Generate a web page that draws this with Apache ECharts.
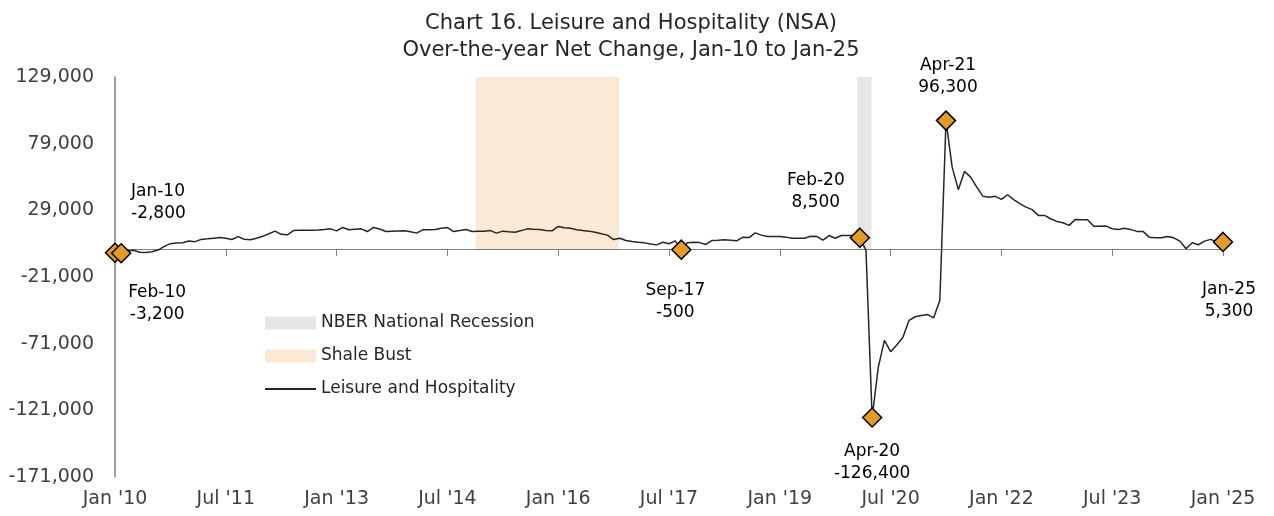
<!DOCTYPE html>
<html>
<head>
<meta charset="utf-8">
<script src="https://cdn.jsdelivr.net/npm/echarts@6/dist/echarts.min.js"></script>
<style>
html,body{margin:0;padding:0;background:#fff;}
#chart{width:1274px;height:516px;}
</style>
</head>
<body>
<div id="chart"></div>
<script>
// Monthly over-the-year net change, Jan 2010 .. Jan 2025 (index 0 = Jan 2010)
const values2010 = [-2800,-3200,-1500,-1000,-2500,-2700,-2000,-800,2000,4000,4500,4700];
const values2011 = [6000,5500,7200,7600,8100,8600,8000,7100,9300,7300,7000,8100];
const values2012 = [9500,11400,13400,11000,10600,13800,14100,14000,14100,14300,14600,15100];
const values2013 = [13600,16100,14400,14800,15100,13100,16200,15000,13100,13400,13500,13600];
const values2014 = [13000,11900,14400,14500,14600,15500,16100,13100,13800,14600,13100,13400];
const values2015 = [13400,13800,11900,13400,12900,12600,13800,15100,14800,14600,13900,13600];
const values2016 = [16900,16000,15600,14500,13800,13400,12600,11400,10400,7100,8100,6400];
const values2017 = [5600,5000,4600,3800,3100,5100,3900,6100,-500,4600,5100,4800];
const values2018 = [3400,6400,6600,6900,6600,6100,8900,8600,12100,10400,9300,9300];
const values2019 = [9300,8900,8100,8100,8100,9600,9400,6600,10100,8100,10100,10100];
const values2020 = [10100,8500,-1000,-126400,-88600,-68500,-77000,-72000,-66200,-53500,-50800,-49800];
const values2021 = [-49200,-51600,-38500,96300,61400,44500,58200,53900,46400,39500,38900,39500];
const values2022 = [37200,40700,37000,34000,31400,29500,25200,25200,22700,20700,19700,17700];
const values2023 = [22200,22000,21900,17000,17000,17200,15200,14700,15500,14700,13200,13200];
const values2024 = [8900,8400,8400,9400,8400,5900,200,4700,3200,5900,7200,5200];
const values2025 = [5300];

const xTickLabels = ["Jan '10","Jul '11","Jan '13","Jul '14","Jan '16","Jul '17","Jan '19","Jul '20","Jan '22","Jul '23","Jan '25"];
const yTicks = [-171000,-121000,-71000,-21000,29000,79000,129000];

// highlighted points: month index and label
const highlightIdx = [0, 1, 92, 121, 123, 135, 180];
const highlightNames = ['Jan-10','Feb-10','Sep-17','Feb-20','Apr-20','Apr-21','Jan-25'];

// shaded periods (month index positions)
const recessionBand = [120.6, 122.9];
const shaleBand = [58.6, 81.9];

const seriesName = 'Leisure and Hospitality';
const recessionName = 'NBER National Recession';
const shaleName = 'Shale Bust';

// ---- build ----
const allValues = [].concat(values2010,values2011,values2012,values2013,values2014,values2015,
  values2016,values2017,values2018,values2019,values2020,values2021,values2022,values2023,values2024,values2025);
const lineData = allValues.map((v,i)=>[i,v]);

const labelOffsets = {
  'Jan-10': {offset:[16,-50], align:'left'},
  'Feb-10': {offset:[36,50], align:'center'},
  'Sep-17': {offset:[-6,52], align:'center'},
  'Feb-20': {offset:[-44,-46], align:'center'},
  'Apr-20': {offset:[0,45], align:'center'},
  'Apr-21': {offset:[2,-44], align:'center'},
  'Jan-25': {offset:[6,59], align:'center'}
};
const fmt = v => v.toLocaleString('en-US');
const scatterData = highlightIdx.map((idx,k)=>{
  const nm = highlightNames[k];
  const o = labelOffsets[nm];
  return {
    value:[idx, allValues[idx]], name:nm,
    label:{show:true, position:'inside', offset:o.offset, align:o.align, verticalAlign:'middle'}
  };
});

const FONT = 'DejaVu Sans';
const chart = echarts.init(document.getElementById('chart'), null, {renderer:'canvas'});
const yMin = yTicks[0], yMax = yTicks[yTicks.length-1];
const xMax = allValues.length - 1;
const option = {
  animation:false,
  backgroundColor:'#fff',
  textStyle:{fontFamily:FONT},
  title:{
    text:'Chart 16. Leisure and Hospitality (NSA)\nOver-the-year Net Change, Jan-10 to Jan-25',
    left:626, top:5, textAlign:'center',
    textStyle:{fontFamily:FONT, fontSize:21, fontWeight:'normal', color:'#262626', lineHeight:27}
  },
  legend:{
    orient:'vertical', left:264, top:313, padding:0, itemWidth:51, itemHeight:13, itemGap:13,
    textStyle:{fontFamily:FONT, fontSize:17, color:'#262626', lineHeight:20},
    data:[{name:recessionName, icon:'rect'},{name:shaleName, icon:'rect'},
          {name:seriesName, itemStyle:{opacity:0}}]
  },
  grid:{left:115, right:51, top:77, bottom:39, containLabel:false},
  xAxis:[
    {type:'value', min:0, max:xMax, interval:18,
     axisLine:{show:true, onZero:true, lineStyle:{color:'#808080', width:1}},
     axisTick:{show:true, length:7, lineStyle:{color:'#808080'}},
     axisLabel:{show:false}, splitLine:{show:false}},
    {type:'value', min:0, max:xMax, interval:18, position:'bottom',
     axisLine:{show:false, onZero:false}, axisTick:{show:false}, splitLine:{show:false},
     axisLabel:{show:true, margin:13, fontFamily:FONT, fontSize:19, color:'#404040',
       formatter:v=>xTickLabels[Math.round(v/18)]}}
  ],
  yAxis:{type:'value', min:yMin, max:yMax, interval:50000,
    axisLine:{show:true, onZero:false, lineStyle:{color:'#808080', width:1.5}},
    axisTick:{show:false}, splitLine:{show:false},
    axisLabel:{margin:21, fontFamily:FONT, fontSize:19, color:'#404040', formatter:fmt}},
  series:[
    {name:recessionName, type:'scatter', data:[], z:1, itemStyle:{color:'#E6E6E6', opacity:1},
     markArea:{silent:true, itemStyle:{color:'#E6E6E6'},
       data:[[{xAxis:recessionBand[0], yAxis:0},{xAxis:recessionBand[1], yAxis:yMax}]]}},
    {name:shaleName, type:'scatter', data:[], z:1, itemStyle:{color:'#FAE9D5', opacity:1},
     markArea:{silent:true, itemStyle:{color:'#FAE9D5'},
       data:[[{xAxis:shaleBand[0], yAxis:0},{xAxis:shaleBand[1], yAxis:yMax}]]}},
    {name:seriesName, type:'line', data:lineData, symbol:'none', showSymbol:false, z:3,
     itemStyle:{color:'#262626'}, lineStyle:{color:'#262626', width:1.5}},
    {name:'highlights', type:'scatter', data:scatterData, z:4, symbol:'diamond', symbolSize:19,
     itemStyle:{color:'#E39B26', borderColor:'#000', borderWidth:1.5, opacity:1},
     label:{fontFamily:FONT, fontSize:17, color:'#000', lineHeight:22,
       formatter:p=>p.name+'\n'+fmt(p.value[1])}}
  ]
};
chart.setOption(option);
</script>
</body>
</html>
